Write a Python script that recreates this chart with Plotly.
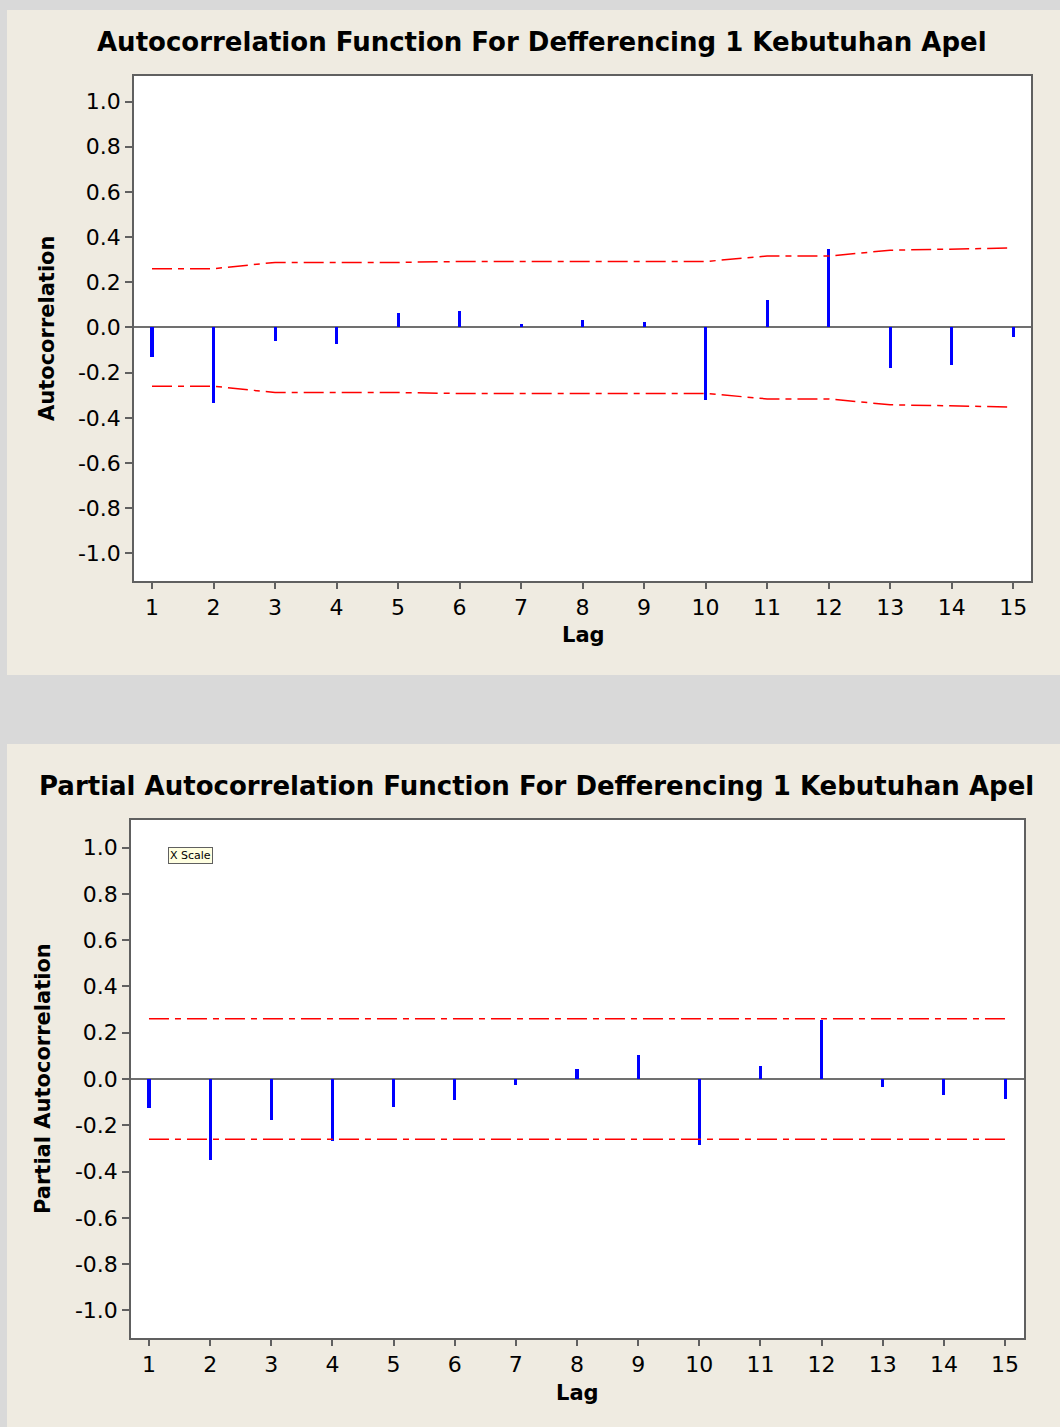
import plotly.graph_objects as go

lags = list(range(1, 16))
acf = [-0.13, -0.333, -0.06, -0.071, 0.062, 0.072, 0.015, 0.031, 0.025, -0.319, 0.12, 0.348, -0.178, -0.165, -0.043]
acf_limit = [0.26, 0.26, 0.288, 0.288, 0.288, 0.292, 0.292, 0.292, 0.292, 0.292, 0.316, 0.316, 0.342, 0.346, 0.352]
pacf = [-0.125, -0.35, -0.176, -0.27, -0.121, -0.091, -0.026, 0.043, 0.104, -0.285, 0.057, 0.253, -0.036, -0.069, -0.086]
pacf_limit = [0.26] * 15
yticks = [-1.0, -0.8, -0.6, -0.4, -0.2, 0.0, 0.2, 0.4, 0.6, 0.8, 1.0]
ytick_text = ["%.1f" % v for v in yticks]

W, H = 1060, 1427
FONT = "DejaVu Sans"
BEIGE = "#efebe1"
GREY = "#d9d9d9"
DASH = "20px,6px,6px,6px"

fig = go.Figure()

# ACF
fig.add_trace(go.Bar(x=lags, y=acf, width=0.05, marker=dict(color="#0000ff", line=dict(width=0)),
                     xaxis="x", yaxis="y", showlegend=False))
fig.add_trace(go.Scatter(x=lags, y=acf_limit, mode="lines", line=dict(color="red", width=1.5, dash=DASH),
                         xaxis="x", yaxis="y", showlegend=False))
fig.add_trace(go.Scatter(x=lags, y=[-v for v in acf_limit], mode="lines", line=dict(color="red", width=1.5, dash=DASH),
                         xaxis="x", yaxis="y", showlegend=False))
# PACF
fig.add_trace(go.Bar(x=lags, y=pacf, width=0.05, marker=dict(color="#0000ff", line=dict(width=0)),
                     xaxis="x2", yaxis="y2", showlegend=False))
fig.add_trace(go.Scatter(x=lags, y=pacf_limit, mode="lines", line=dict(color="red", width=1.5, dash=DASH),
                         xaxis="x2", yaxis="y2", showlegend=False))
fig.add_trace(go.Scatter(x=lags, y=[-v for v in pacf_limit], mode="lines", line=dict(color="red", width=1.5, dash=DASH),
                         xaxis="x2", yaxis="y2", showlegend=False))

xax = dict(tickmode="array", tickvals=lags, ticktext=[str(v) for v in lags], ticks="outside", ticklen=6,
           tickcolor="#606060", tickwidth=1.5, showline=True, linecolor="#606060", linewidth=1.5, mirror=True,
           showgrid=False, zeroline=False, tickfont=dict(family=FONT, size=22, color="black"))
yax = dict(tickmode="array", tickvals=yticks, ticktext=ytick_text, ticks="outside", ticklen=7,
           tickcolor="#606060", tickwidth=1.5, showline=True, linecolor="#606060", linewidth=1.5, mirror=True,
           showgrid=False, zeroline=True, zerolinecolor="#707070", zerolinewidth=2,
           tickfont=dict(family=FONT, size=22, color="black"))

fig.update_layout(
    width=W, height=H, margin=dict(l=0, r=0, t=0, b=0),
    paper_bgcolor=BEIGE, plot_bgcolor="white", bargap=0,
    xaxis=dict(xax, domain=[134 / W, 1031 / W], range=[0.707, 15.29], anchor="y"),
    yaxis=dict(yax, domain=[1 - 581 / H, 1 - 76 / H], range=[-1.122, 1.113], anchor="x"),
    xaxis2=dict(xax, domain=[131 / W, 1024 / W], range=[0.706, 15.31], anchor="y2"),
    yaxis2=dict(yax, domain=[1 - 1338 / H, 1 - 820 / H], range=[-1.119, 1.119], anchor="x2"),
    shapes=[
        dict(type="rect", xref="paper", yref="paper", x0=0, x1=7 / W, y0=0, y1=1,
             fillcolor=GREY, line=dict(width=0), layer="below"),
        dict(type="rect", xref="paper", yref="paper", x0=0, x1=1, y0=1 - 10 / H, y1=1,
             fillcolor=GREY, line=dict(width=0), layer="below"),
        dict(type="rect", xref="paper", yref="paper", x0=0, x1=1, y0=1 - 744 / H, y1=1 - 675 / H,
             fillcolor=GREY, line=dict(width=0), layer="below"),
    ],
    annotations=[
        dict(text="<b>Autocorrelation Function For Defferencing 1 Kebutuhan Apel</b>", xref="paper", yref="paper",
             x=541.5 / W, y=1 - 42 / H, showarrow=False, xanchor="center", yanchor="middle",
             font=dict(family=FONT, size=26, color="black")),
        dict(text="<b>Partial Autocorrelation Function For Defferencing 1 Kebutuhan Apel</b>", xref="paper", yref="paper",
             x=536 / W, y=1 - 786 / H, showarrow=False, xanchor="center", yanchor="middle",
             font=dict(family=FONT, size=26, color="black")),
        dict(text="<b>Autocorrelation</b>", xref="paper", yref="paper", x=47 / W, y=1 - 329 / H, textangle=-90,
             showarrow=False, xanchor="center", yanchor="middle", font=dict(family=FONT, size=21, color="black")),
        dict(text="<b>Partial Autocorrelation</b>", xref="paper", yref="paper", x=43 / W, y=1 - 1079 / H, textangle=-90,
             showarrow=False, xanchor="center", yanchor="middle", font=dict(family=FONT, size=21, color="black")),
        dict(text="<b>Lag</b>", xref="paper", yref="paper", x=583 / W, y=1 - 635 / H,
             showarrow=False, xanchor="center", yanchor="middle", font=dict(family=FONT, size=21, color="black")),
        dict(text="<b>Lag</b>", xref="paper", yref="paper", x=577 / W, y=1 - 1393 / H,
             showarrow=False, xanchor="center", yanchor="middle", font=dict(family=FONT, size=21, color="black")),
        dict(text="X Scale", xref="paper", yref="paper", x=190 / W, y=1 - 856 / H,
             showarrow=False, xanchor="center", yanchor="middle", font=dict(family=FONT, size=11, color="black"),
             bgcolor="#ffffe1", bordercolor="#606060", borderwidth=1, borderpad=1),
    ],
)

fig.write_html("out.html", config={"displayModeBar": False},
               post_script="document.body.style.margin='0';document.body.style.overflow='hidden';")
